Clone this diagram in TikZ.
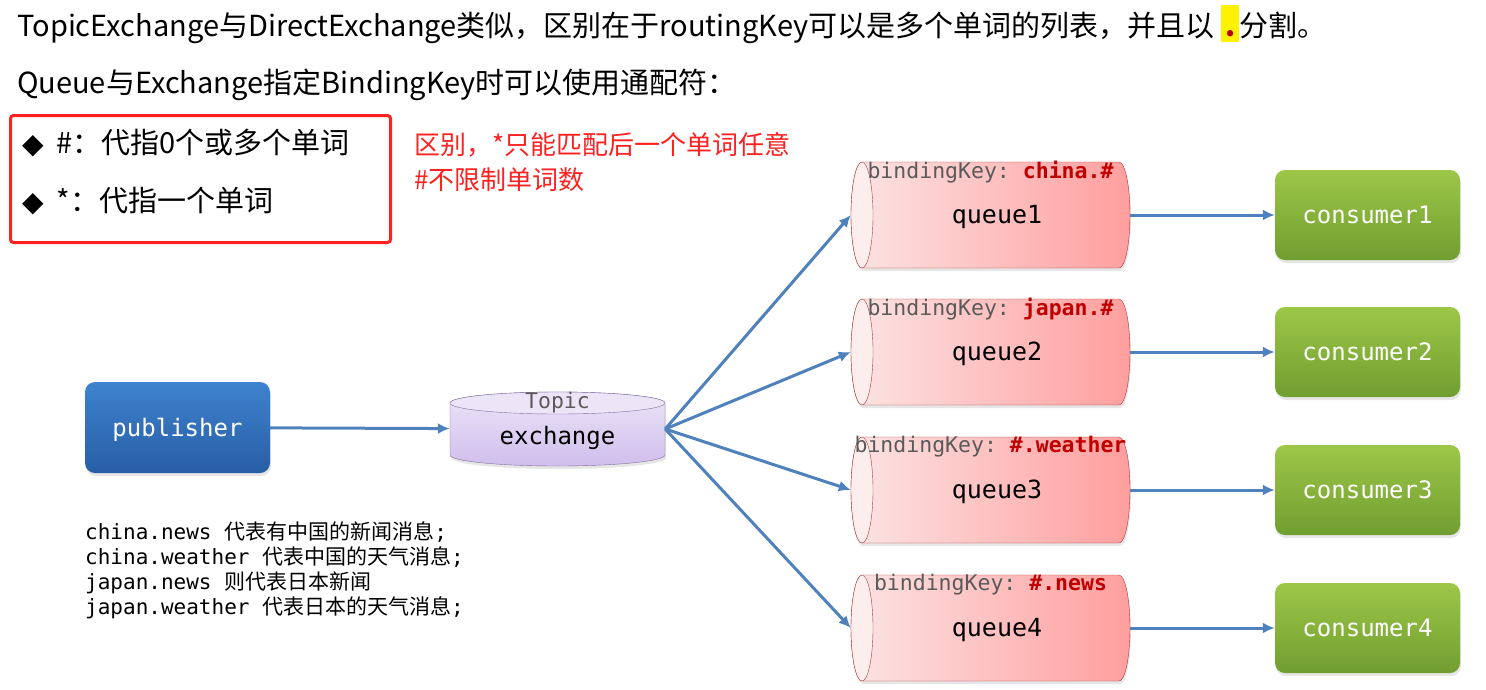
\documentclass[tikz,border=0pt]{standalone}
\usepackage{fontspec}
\setmainfont{Noto Sans CJK SC}
\setmonofont{DejaVu Sans Mono}
\newfontfamily\cjk{Noto Sans CJK SC}
\newfontfamily\symfont{DejaVu Sans}
\usetikzlibrary{arrows.meta,positioning,shadows}
\definecolor{linkblue}{RGB}{79,129,189}
\definecolor{boxred}{RGB}{255,32,32}
\definecolor{keyred}{RGB}{192,0,0}
\definecolor{keygray}{RGB}{90,90,90}
\definecolor{pubtop}{RGB}{62,130,206}
\definecolor{pubbot}{RGB}{40,94,166}
\definecolor{extop}{RGB}{236,229,248}
\definecolor{exbot}{RGB}{208,190,236}
\definecolor{exedge}{RGB}{130,112,160}
\definecolor{qleft}{RGB}{252,228,228}
\definecolor{qright}{RGB}{255,158,158}
\definecolor{qface}{RGB}{253,238,238}
\definecolor{qedge}{RGB}{175,55,55}
\definecolor{contop}{RGB}{157,199,72}
\definecolor{conbot}{RGB}{112,158,48}

\newcommand\headfont{\fontsize{29}{32}\selectfont}
\newcommand\redfont{\fontsize{26}{35}\selectfont}
\newcommand\boxfont{\ttfamily\fontsize{24}{28}\selectfont}
\newcommand\keyfont{\ttfamily\fontsize{21.5}{26}\selectfont}
\newcommand\notesfont{\ttfamily\fontsize{21}{26}\selectfont}
\newcommand\hlDot{{\setlength{\fboxsep}{0pt}\colorbox{yellow}{\makebox[18pt]{\rule[-6pt]{0pt}{37pt}\textcolor{keyred}{\textbf{.}}}}}}
\newcommand\bul{{\symfont\fontsize{28}{30}\selectfont ◆}\hspace{13pt}}

\tikzset{
  flow/.style={-{Latex[length=12pt,width=11pt]},linkblue,line width=3pt},
  softshadow/.style={drop shadow={opacity=0.2,shadow xshift=1pt,shadow yshift=-3pt}},
  pubbox/.style={rounded corners=10pt,top color=pubtop,bottom color=pubbot,
    minimum width=185pt,minimum height=91pt,text=white,font=\boxfont,softshadow},
  conbox/.style={rounded corners=10pt,top color=contop,bottom color=conbot,
    minimum width=185pt,minimum height=90pt,text=white,font=\boxfont,softshadow},
  exbody/.style={draw=exedge,top color=extop,bottom color=exbot,softshadow},
  extopface/.style={draw=exedge,fill=extop},
  queuebody/.style={draw=qedge,left color=qleft,right color=qright,softshadow},
  queueend/.style={draw=qedge,fill=qface},
  spot/.style={inner sep=0pt,minimum width=#1}
}

\begin{document}
\begin{tikzpicture}[x=1pt,y=-1pt,>=Latex]
\useasboundingbox (0,0) rectangle (1486,689);

% heading
\node[anchor=base west,font=\headfont,inner sep=0pt] (line1) at (17,36)
  {TopicExchange与DirectExchange类似，区别在于routingKey可以是多个单词的列表，并且以 \hlDot 分割。};
\node[anchor=base west,font=\headfont,inner sep=0pt] (line2) at (17,93)
  {Queue与Exchange指定BindingKey时可以使用通配符：};

% wildcards
\node[draw=boxred,line width=3pt,rounded corners=3pt,minimum width=380pt,
  minimum height=127pt] (wild) at (200.5,179) {};
\node[anchor=base west,font=\headfont,inner sep=0pt] (hash) at (22,153)
  {\bul\#：代指0个或多个单词};
\node[anchor=base west,font=\headfont,inner sep=0pt] (star) at (22,211)
  {\bul*：代指一个单词};
\node[anchor=base west,font=\redfont,text=boxred,inner sep=0pt] (diff1) at (414,154)
  {区别，*只能匹配后一个单词任意};
\node[anchor=base west,font=\redfont,text=boxred,inner sep=0pt] (diff2) at (414,189)
  {\#不限制单词数};

% publisher and exchange
\node[pubbox] (pub) at (177.5,427.5) {};
\node[font=\boxfont,text=white] (pubname) at (177.5,430) {publisher};
\path[exbody] (450,403) -- (450,455)
  arc[start angle=180,end angle=0,x radius=107.5,y radius=11] -- (665,403)
  arc[start angle=0,end angle=-180,x radius=107.5,y radius=11] -- cycle;
\path[extopface] (557.5,403) ellipse[x radius=107.5,y radius=11];
\node[spot=215pt,minimum height=74pt] (ex) at (557.5,429) {};
\node[font=\keyfont,text=keygray] (extype) at (557.5,403) {Topic};
\node[font=\boxfont] (exname) at (557.5,438) {exchange};
\draw[flow] (pub) -- (ex);

% queues and consumers
\foreach \i/\ypos/\key in {1/215/china.\#,2/352/japan.\#,3/490/\#.weather,4/628/\#.news}{
  \path[queuebody] (862,\ypos-53) -- (1119,\ypos-53)
    arc[start angle=-90,end angle=90,x radius=11,y radius=53] -- (862,\ypos+53)
    arc[start angle=90,end angle=270,x radius=11,y radius=53] -- cycle;
  \path[queueend] (862,\ypos) ellipse[x radius=11,y radius=53];
  \node[spot=279pt,minimum height=106pt] (q\i) at (990.5,\ypos) {};
  \node[font=\keyfont,text=keygray] (k\i) at (990.5,\ypos-43)
    {bindingKey: \textcolor{keyred}{\textbf{\key}}};
  \node[font=\ttfamily\fontsize{25}{30}\selectfont] (qn\i) at (997,\ypos+2) {queue\i};
  \node[conbox] (c\i) at (1367.5,\ypos) {consumer\i};
  \draw[flow] (ex.east) -- (q\i.west);
  \draw[flow] (q\i.east) -- (c\i.west);
}

% routing keys
\node[anchor=north west,align=left,font=\notesfont,inner sep=0pt] (notes) at (85,521)
  {china.news {\cjk 代表有中国的新闻消息};\\[-0.7pt]
   china.weather {\cjk 代表中国的天气消息};\\[-0.7pt]
   japan.news {\cjk 则代表日本新闻}\\[-0.7pt]
   japan.weather {\cjk 代表日本的天气消息};};
\end{tikzpicture}
\end{document}
